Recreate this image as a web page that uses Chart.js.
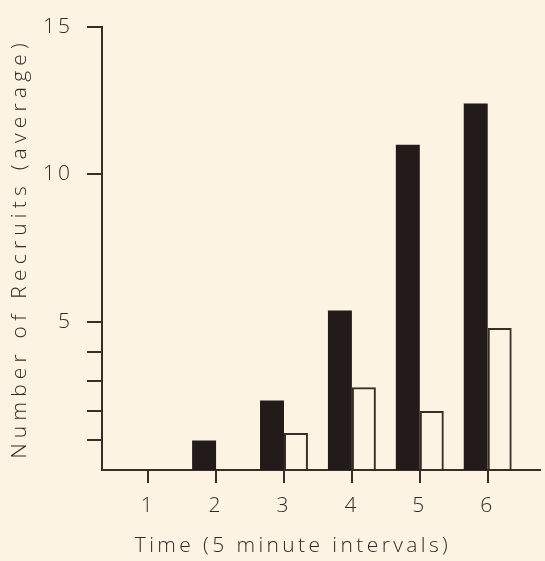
<!DOCTYPE html>
<html>
<head>
<meta charset="utf-8">
<script src="https://cdn.jsdelivr.net/npm/chart.js@4"></script>
<style>
  html, body { margin: 0; padding: 0; background: #fdf3e3; }
  #wrap { width: 545px; height: 561px; }
</style>
</head>
<body>
<div id="wrap"><canvas id="recruitChart"></canvas></div>
<script>
// time intervals (5 minutes each)
const intervals = [1, 2, 3, 4, 5, 6];
// average recruits, filled bars and open bars
const filledValues = [0, 1.0, 2.35, 5.4, 11.0, 12.4];
const openValues = [0, 0, 1.25, 2.8, 2.0, 4.8];
// y ticks: small marks 1-4, labelled marks at 5, 10, 15
const yTicks = [1, 2, 3, 4, 5, 10, 15];
const yLabelled = [5, 10, 15];

const inkColor = '#3a2c28';
const textColor = '#2e2a28';
const fontSpec = { family: "'Open Sans', 'DejaVu Sans', sans-serif", size: 21, weight: 300 };

// letter spacing for the spaced-out lettering
const spacingPlugin = {
  id: 'spacing',
  beforeDraw(chart) { chart.ctx.letterSpacing = '3px'; }
};

// titles get their own spacing (and a small nudge), patched onto drawTitle
function spaceTitle(scale, spacing, dx) {
  if (scale._spacedTitle) return;
  const orig = scale.drawTitle.bind(scale);
  scale.drawTitle = function () {
    const c = this.ctx;
    c.save();
    c.letterSpacing = spacing;
    c.translate(dx, 0);
    orig();
    c.restore();
  };
  scale._spacedTitle = true;
}

const ctxRecruit = document.getElementById('recruitChart').getContext('2d');
const recruitChart = new Chart(ctxRecruit, {
  type: 'bar',
  data: {
    datasets: [
      {
        label: 'filled',
        data: intervals.map((t, i) => ({ x: t, y: filledValues[i] })),
        backgroundColor: '#231b19',
        borderWidth: 0
      },
      {
        label: 'open',
        data: intervals.map((t, i) => ({ x: t, y: openValues[i] })),
        backgroundColor: 'rgba(0,0,0,0)',
        borderColor: inkColor,
        borderWidth: 2,
        borderSkipped: 'bottom'
      }
    ]
  },
  options: {
    responsive: true,
    maintainAspectRatio: false,
    animation: false,
    categoryPercentage: 48 / 68,
    barPercentage: 1,
    layout: { padding: { top: 17, right: 5, left: 0, bottom: 0 } },
    plugins: { legend: { display: false }, tooltip: { enabled: false } },
    scales: {
      x: {
        type: 'linear',
        offset: false,
        min: 0.32,
        max: 6.77,
        afterBuildTicks: s => { s.ticks = intervals.map(v => ({ value: v })); },
        afterFit: s => { s.height = 91; spaceTitle(s, '3.4px', -28); },
        border: { color: inkColor, width: 2 },
        grid: { offset: false, drawOnChartArea: false, tickLength: 13, color: inkColor, lineWidth: 2 },
        ticks: { color: textColor, font: fontSpec, padding: 10, maxRotation: 0, callback: v => String(v) },
        title: { display: true, text: 'Time (5 minute intervals)', color: textColor, font: fontSpec, padding: { top: 2, bottom: 2 } }
      },
      y: {
        min: 0,
        max: 15,
        afterBuildTicks: s => { s.ticks = yTicks.map(v => ({ value: v })); },
        afterFit: s => { s.width = 102; spaceTitle(s, '5.2px', 0); },
        border: { color: inkColor, width: 2 },
        grid: { drawOnChartArea: false, tickLength: 15, color: inkColor, lineWidth: 2 },
        ticks: {
          color: textColor, font: fontSpec, padding: 14,
          callback: v => yLabelled.includes(v) ? String(v) : ''
        },
        title: { display: true, text: 'Number of Recruits (average)', color: textColor, font: fontSpec, padding: { top: 7, bottom: 0 } }
      }
    }
  },
  plugins: [spacingPlugin]
});
</script>
</body>
</html>
